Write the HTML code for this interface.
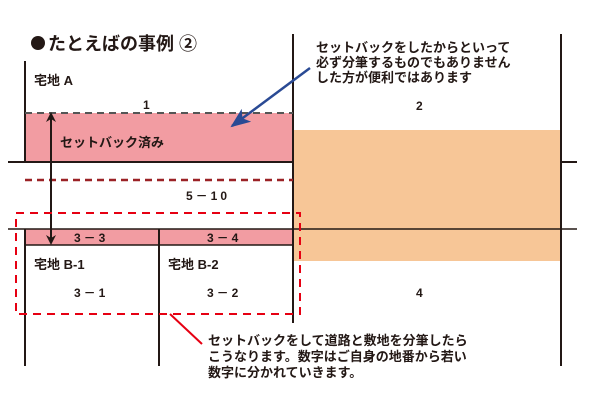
<!DOCTYPE html>
<html><head><meta charset="utf-8"><style>
html,body{margin:0;padding:0;background:#fff;}
svg{display:block;}
text{font-family:"Liberation Sans","Noto Sans CJK JP",sans-serif;font-weight:bold;fill:#231815;}
</style></head><body>
<svg width="600" height="400" viewBox="0 0 600 400" xmlns="http://www.w3.org/2000/svg">
<defs>
<marker id="ah" markerWidth="10" markerHeight="10" refX="8" refY="5" orient="auto" markerUnits="userSpaceOnUse"><path d="M0,0 L10,5 L0,10 L3,5 z" fill="#231815"/></marker>
<marker id="bh" markerWidth="20" markerHeight="16" refX="18" refY="8" orient="auto" markerUnits="userSpaceOnUse"><path d="M0,0 L20,8 L0,16 L5,8 z" fill="#2a4a94"/></marker>
</defs>
<rect x="293" y="130" width="268" height="131" fill="#f7c697"/>
<rect x="25" y="113" width="268" height="49" fill="#f29ca2"/>
<rect x="25" y="229" width="268" height="16" fill="#f29ca2"/>
<circle cx="38" cy="43" r="7" fill="#231815"/>
<text x="48" y="50" font-size="18">たとえばの事例 ②</text>
<g stroke="#231815" stroke-width="2" fill="none">
<line x1="25" y1="61" x2="25" y2="162"/>
<line x1="8" y1="162" x2="293" y2="162"/>
<line x1="561" y1="162" x2="577" y2="162"/>
<line x1="8" y1="229" x2="577" y2="229" stroke-width="1.5"/>
<line x1="25" y1="229" x2="25" y2="366"/>
<line x1="159" y1="229" x2="159" y2="366"/>
<line x1="25" y1="245" x2="293" y2="245" stroke-width="1.5"/>
<line x1="293" y1="34" x2="293" y2="323"/>
<line x1="561" y1="34" x2="561" y2="366"/>
<line x1="25" y1="113" x2="293" y2="113" stroke="#555" stroke-dasharray="7,5"/>
<line x1="25" y1="180" x2="293" y2="180" stroke="#9b2226" stroke-width="2.5" stroke-dasharray="7,5"/>
<line x1="51" y1="200" x2="51" y2="114" marker-end="url(#ah)"/>
<line x1="51" y1="130" x2="51" y2="243" marker-end="url(#ah)"/>
</g>
<rect x="16" y="213" width="284" height="101" fill="none" stroke="#e60012" stroke-width="2" stroke-dasharray="8,6"/>
<line x1="170" y1="314" x2="202" y2="344" stroke="#e60012" stroke-width="2"/>
<line x1="310" y1="68" x2="232" y2="126" stroke="#2a4a94" stroke-width="2.5" marker-end="url(#bh)"/>
<text x="34" y="85" font-size="13">宅地 A</text>
<text x="143" y="109" font-size="12">1</text>
<text x="60" y="147" font-size="13">セットバック済み</text>
<text x="186" y="200" font-size="12" letter-spacing="3">5－10</text>
<text x="74" y="242" font-size="12" letter-spacing="3">3－3</text>
<text x="207" y="242" font-size="12" letter-spacing="3">3－4</text>
<text x="34" y="269" font-size="13">宅地 B-1</text>
<text x="168" y="269" font-size="13">宅地 B-2</text>
<text x="74" y="297" font-size="12" letter-spacing="3">3－1</text>
<text x="207" y="297" font-size="12" letter-spacing="3">3－2</text>
<text x="416" y="297" font-size="12">4</text>
<text x="416" y="110" font-size="12">2</text>
<text x="316" y="52" font-size="13">セットバックをしたからといって</text>
<text x="316" y="67" font-size="13">必ず分筆するものでもありません</text>
<text x="316" y="82" font-size="13">した方が便利ではあります</text>
<text x="208" y="345" font-size="13">セットバックをして道路と敷地を分筆したら</text>
<text x="208" y="361" font-size="13">こうなります。数字はご自身の地番から若い</text>
<text x="208" y="377" font-size="13">数字に分かれていきます。</text>
</svg>
</body></html>
